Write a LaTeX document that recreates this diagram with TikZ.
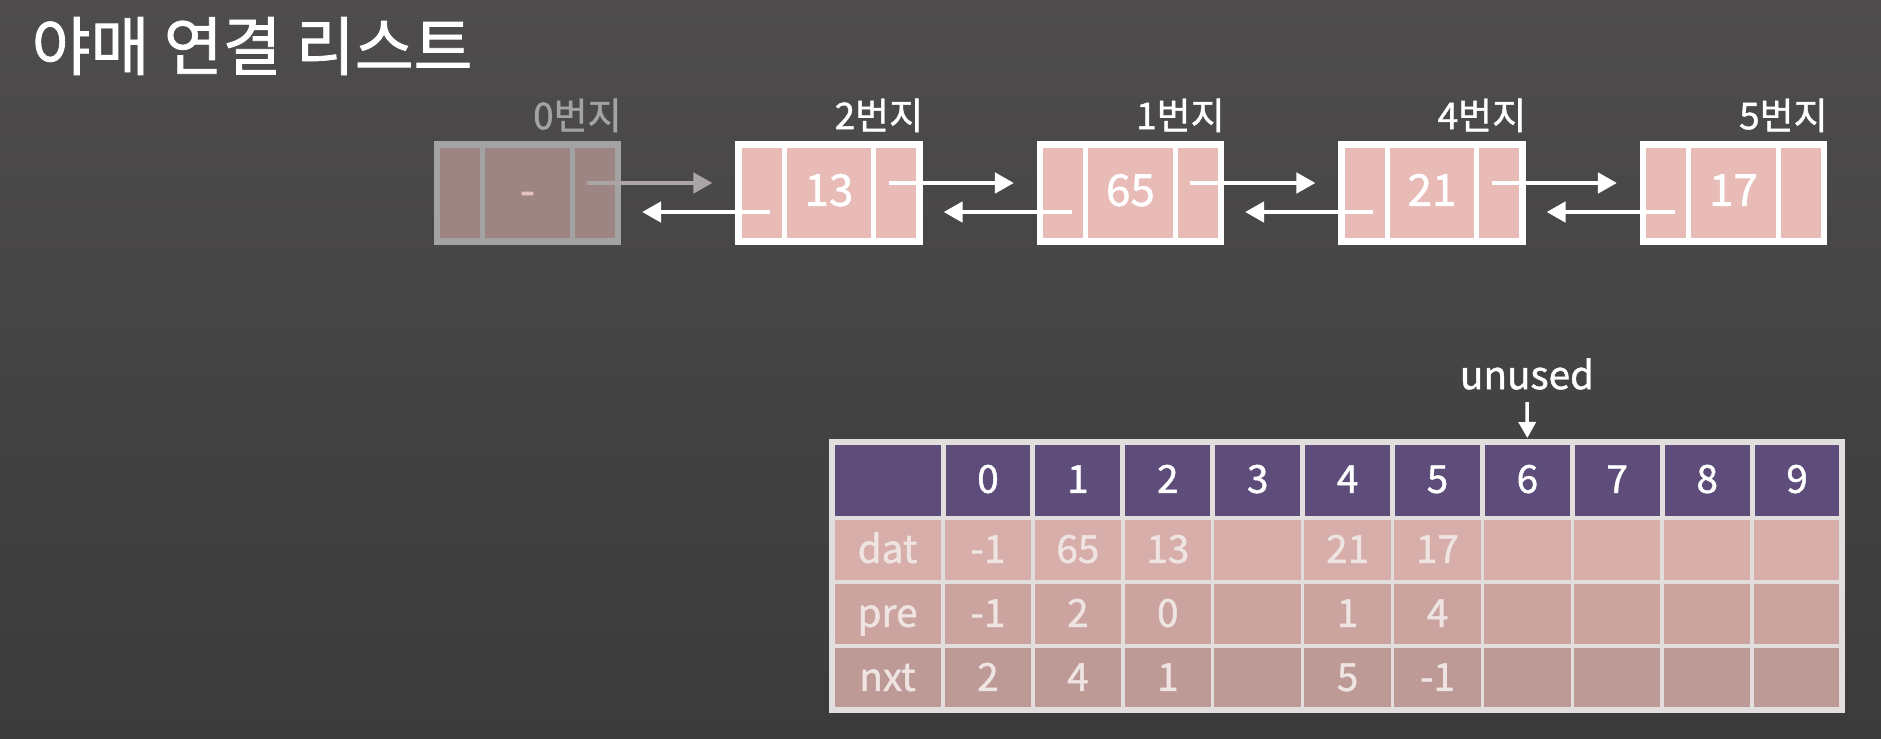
\documentclass[tikz,border=0pt]{standalone}
\usepackage{fontspec}
\newfontfamily\krfont{Noto Sans CJK KR}[FakeBold=1.2]
\usetikzlibrary{fit, positioning, arrows.meta}

\definecolor{bgtop}{HTML}{4E4C4D}
\definecolor{bgbot}{HTML}{3B3B3B}
\definecolor{cellpink}{HTML}{E8BBB7}
\definecolor{ghostfill}{HTML}{9C8583}
\definecolor{ghostline}{HTML}{A3A3A3}
\definecolor{ghosttext}{HTML}{E2C2BE}
\definecolor{ghostarrow}{HTML}{ABA5A5}
\definecolor{headpurple}{HTML}{5E4D7B}
\definecolor{tblline}{HTML}{E2DEDE}
\definecolor{rowa}{HTML}{D8AEAA}
\definecolor{rowb}{HTML}{CBA4A0}
\definecolor{rowc}{HTML}{BD9A96}
\definecolor{tbltext}{HTML}{EEE4E2}

\tikzset{
  every node/.style={font=\krfont, text=white},
  cell/.style={line width=0.05cm, minimum height=0.97cm, inner sep=0pt, outer sep=0pt, text height=0.73em, text depth=0pt},
  addr/.style={font=\krfont\fontsize{10.5}{12}\selectfont, inner sep=0pt},
  link/.style={-{Triangle[length=0.19cm,width=0.2cm]}, line width=0.045cm},
  hcell/.style={fill=headpurple, draw=tblline, line width=0.05cm, minimum width=0.899cm, minimum height=0.76cm, inner sep=0pt, outer sep=0pt, text height=0.73em, text depth=0pt, font=\krfont\fontsize{11}{13}\selectfont},
  bcell/.style={draw=tblline, line width=0.035cm, minimum width=0.899cm, minimum height=0.64cm, inner sep=0pt, outer sep=0pt, text height=0.73em, text depth=0pt, text=tbltext, font=\krfont\fontsize{11}{13}\selectfont}
}

\begin{document}
\begin{tikzpicture}[x=0.01cm, y=0.01cm]
	\shade[top color=bgtop, bottom color=bgbot] (0,0) rectangle (1881,-738);
	\useasboundingbox (0,0) rectangle (1881,-738);

	\node[anchor=base west, inner sep=0pt, font=\krfont\fontsize{18.2}{21}\selectfont] (title) at (31,-70) {야매 연결 리스트};

	% list nodes
	\foreach[count=\i] \addr/\val/\fc/\lc/\tc in {0/-/ghostfill/ghostline/ghosttext, 2/13/cellpink/white/white, 1/65/cellpink/white/white, 4/21/cellpink/white/white, 5/17/cellpink/white/white} {
		\node[cell, fill=\fc, draw=\lc, text=\tc, minimum width=0.89cm, font=\krfont\fontsize{12.5}{15}\selectfont] (n-\i-d) at ({527.5+301.5*(\i-1)},-193) {\val};
		\node[cell, fill=\fc, draw=\lc, minimum width=0.46cm, left=0pt of n-\i-d] (n-\i-p) {};
		\node[cell, fill=\fc, draw=\lc, minimum width=0.46cm, right=0pt of n-\i-d] (n-\i-n) {};
		\node[draw=\lc, line width=0.065cm, inner sep=0pt, fit=(n-\i-p)(n-\i-n)] (f-\i) {};
		\node[addr, text=\lc, anchor=base east] (lbl-\i) at ([xshift=0.01cm, yshift=0.12cm]f-\i.north east) {\addr{}번지};
	}

	\foreach \i/\j/\ac in {1/2/ghostarrow, 2/3/white, 3/4/white, 4/5/white} {
		\draw[link, \ac] ([xshift=0.15cm, yshift=0.1cm]n-\i-n.west) -- ([xshift=-0.26cm, yshift=0.1cm]n-\j-p.west);
		\draw[link, white] ([xshift=0.32cm, yshift=-0.19cm]n-\j-p.west) -- ([xshift=0.24cm, yshift=-0.19cm]n-\i-n.east);
	}

	% array table
	\node[hcell, minimum width=1.11cm] (h-l) at (887.5,-480) {};
	\foreach \j in {0,...,9}
		\node[hcell] (h-\j) at ({988+89.9*\j},-480) {\j};

	\foreach[count=\r] \rname/\rfill/\rvals in {dat/rowa/{-1,65,13,{},21,17,{},{},{},{}}, pre/rowb/{-1,2,0,{},1,4,{},{},{},{}}, nxt/rowc/{2,4,1,{},5,-1,{},{},{},{}}} {
		\node[bcell, fill=\rfill, minimum width=1.11cm] (r-\r-l) at (887.5,{-486-64*\r}) {\rname};
		\foreach[count=\c from 0] \v in \rvals
			\node[bcell, fill=\rfill] (r-\r-\c) at ({988+89.9*\c},{-486-64*\r}) {\v};
	}
	\node[draw=tblline, line width=0.065cm, inner sep=0pt, fit=(h-l)(r-3-9)] (tbl) {};

	\node[font=\krfont\fontsize{11}{13}\selectfont] (unused) at (1527,-374) {unused};
	\draw[-{Triangle[length=0.16cm,width=0.17cm]}, white, line width=0.035cm, shorten >=0.04cm] (unused.south) -- (h-6.north);
\end{tikzpicture}
\end{document}
